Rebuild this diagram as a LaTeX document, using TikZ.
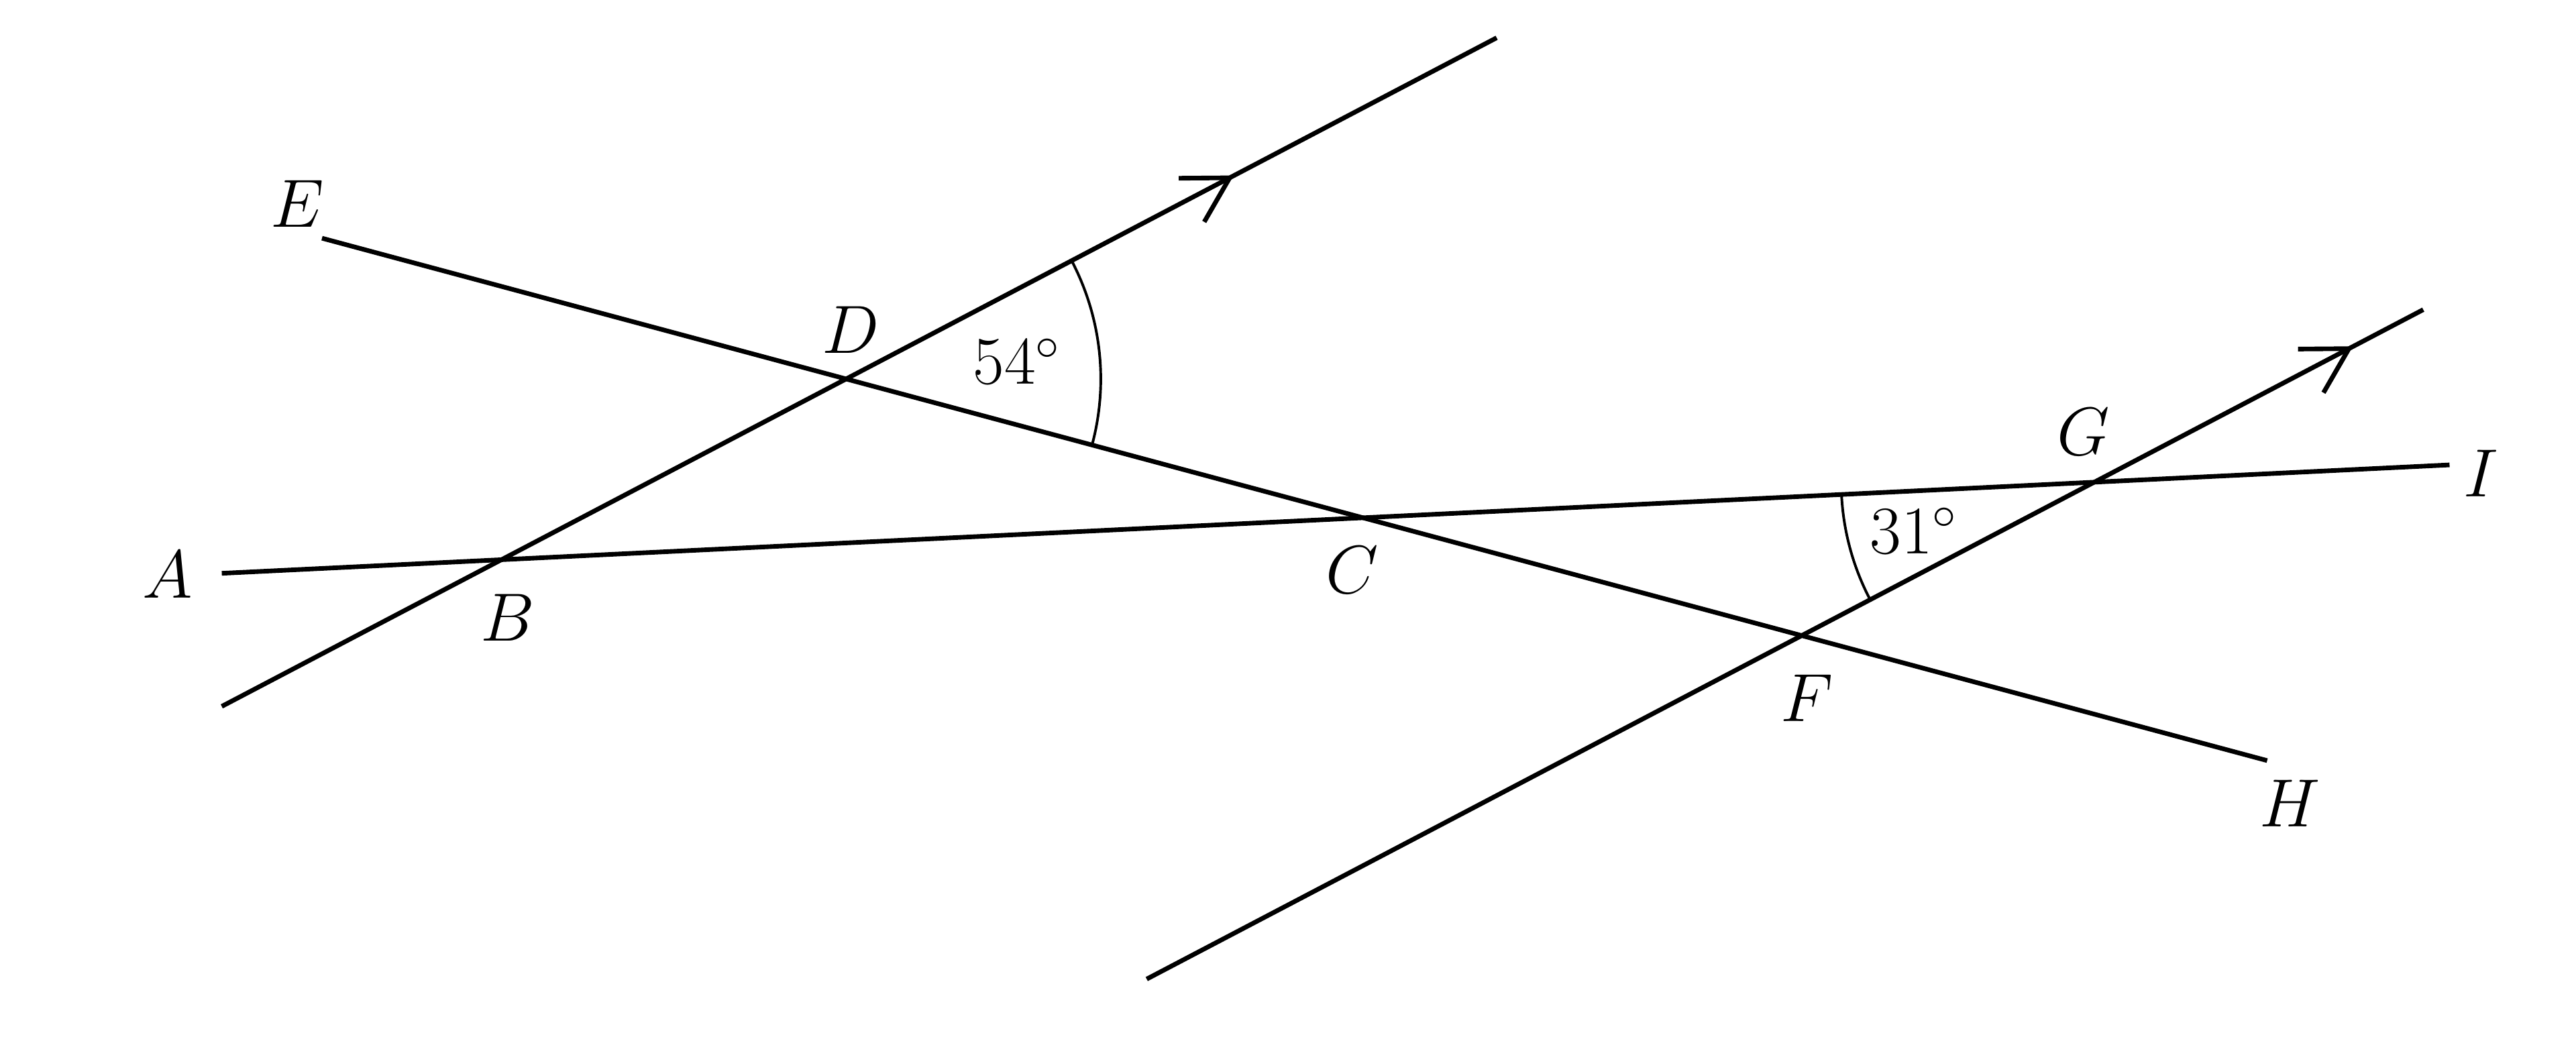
\documentclass[tikz,border=0pt]{standalone}
\usetikzlibrary{calc}
\begin{document}
\begin{tikzpicture}[x=0.5pt,y=0.5pt,
  line/.style={line width=1.4pt},
  arcmark/.style={line width=0.8pt},
  tipmark/.style={line width=1.4pt, line join=miter},
  lbl/.style={font=\fontsize{22}{26}\selectfont, inner sep=0pt}]
\useasboundingbox (0,0) rectangle (1568,-630.87);
% line end points
\coordinate (P1) at (135,-430);  \coordinate (P2) at (911,-23);
\coordinate (Q1) at (698,-596);  \coordinate (Q2) at (1475,-188.5);
\coordinate (E0) at (196,-145);  \coordinate (H0) at (1380,-463);
\coordinate (A0) at (135,-349);  \coordinate (I0) at (1491,-283);
% intersections
\coordinate (B) at (intersection of P1--P2 and A0--I0);
\coordinate (D) at (intersection of P1--P2 and E0--H0);
\coordinate (C) at (intersection of A0--I0 and E0--H0);
\coordinate (F) at (intersection of Q1--Q2 and E0--H0);
\coordinate (G) at (intersection of Q1--Q2 and A0--I0);
% lines
\draw[line] (P1) -- (P2);
\draw[line] (Q1) -- (Q2);
\draw[line] (E0) -- (H0);
\draw[line] (A0) -- (I0);
% parallel marks
\coordinate (T1) at ($(P1)!0.7906!(P2)$);
\coordinate (T2) at ($(Q1)!0.9418!(Q2)$);
\draw[tipmark] ([shift={(180.5:31)}]T1) -- (T1) -- ([shift={(240:31)}]T1);
\draw[tipmark] ([shift={(180.5:31)}]T2) -- (T2) -- ([shift={(240:31)}]T2);
% angle arcs
\draw[arcmark] ([shift={(-15.03:155)}]D) arc[start angle=-15.03, end angle=27.68, radius=155];
\draw[arcmark] ([shift={(182.79:154)}]G) arc[start angle=182.79, end angle=207.68, radius=154];
% labels
\node[lbl] (lE) at (181,-124) {$E$};
\node[lbl] (lD) at (518,-201) {$D$};
\node[lbl] (lA) at (102,-350) {$A$};
\node[lbl] (lB) at (309,-376) {$B$};
\node[lbl] (lC) at (823,-347) {$C$};
\node[lbl] (lF) at (1100,-425) {$F$};
\node[lbl] (lG) at (1268,-263) {$G$};
\node[lbl] (lI) at (1510,-288) {$I$};
\node[lbl] (lH) at (1394,-489) {$H$};
\node[lbl] (a1) at (619,-220) {$54^{\circ}$};
\node[lbl] (a2) at (1165,-323) {$31^{\circ}$};
\end{tikzpicture}
\end{document}
